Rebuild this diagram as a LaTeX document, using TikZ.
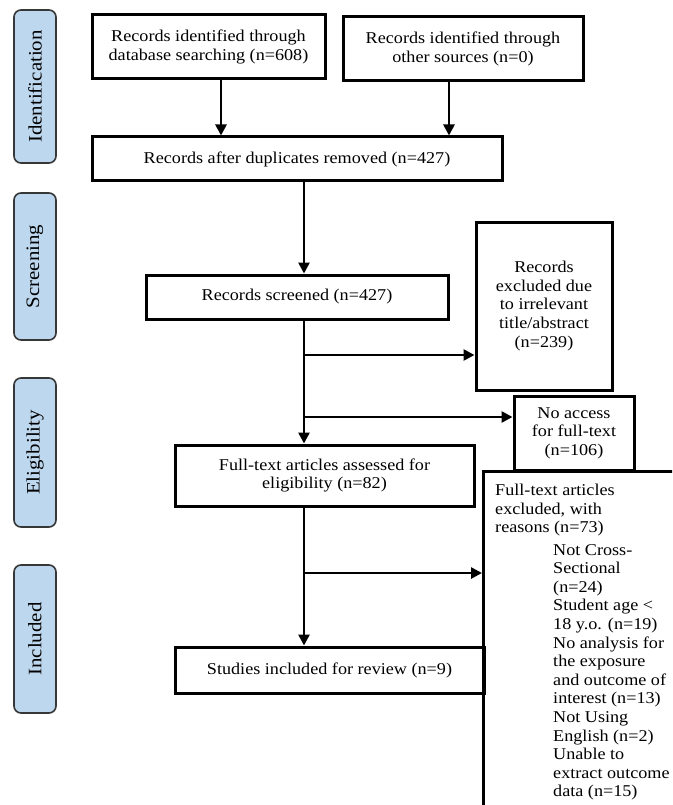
\documentclass[tikz,border=0pt]{standalone}
\usepackage{fontspec}
\setmainfont{Liberation Serif}[FakeStretch=1.1]
\usetikzlibrary{arrows.meta}

\definecolor{tabfill}{RGB}{189,215,238}
\definecolor{tabline}{RGB}{55,55,55}

\tikzset{
  box/.style={draw, line width=3pt, align=center, inner sep=2pt},
  tab/.style={draw=tabline, fill=tabfill, line width=1.6pt, rounded corners=7pt,
    rotate=90, minimum height=42, font=\fontsize{19}{20}\selectfont},
  arr/.style={line width=2.6pt, -{Triangle[length=11pt,width=11pt]}},
}

\begin{document}
\begin{tikzpicture}[x=1pt,y=1pt,yscale=-1,xscale=1,
  every node/.style={font=\fontsize{16.5}{18.6}\selectfont}]
\useasboundingbox (0,0) rectangle (672,805);
\clip (0,0) rectangle (672,805);

% Phase tabs
\node [tab, minimum width=153] (tid) at (35,86.5) {Identification};
\node [tab, minimum width=147] (tscr) at (35,266.5) {Screening};
\node [tab, minimum width=149] (telig) at (35,452.5) {Eligibility};
\node [tab, minimum width=148] (tinc) at (35,639) {Included};

% Boxes
\node [box, minimum width=233, minimum height=64] (db) at (208.5,47) {Records identified through\\database searching (n=608)};
\node [box, minimum width=240, minimum height=64] (oth) at (463,49) {Records identified through\\other sources (n=0)};
\node [box, minimum width=410, minimum height=44] (dup) at (297,159) {Records after duplicates removed (n=427)};
\node [box, minimum width=302, minimum height=44] (scr) at (297,297) {Records screened (n=427)};
\node [box, minimum width=136, minimum height=168] (excl) at (544,306) {Records\\excluded due\\to irrelevant\\title/abstract\\(n=239)};
\node [box, minimum width=120, minimum height=74] (noacc) at (574,433) {No access\\for full-text\\(n=106)};
\node [box, minimum width=299, minimum height=61] (full) at (324.5,475.5) {Full-text articles assessed for\\eligibility (n=82)};
\node [box, minimum width=309, minimum height=46] (stud) at (329.5,670) {Studies included for review (n=9)};
\node [box, anchor=north west, minimum width=260, minimum height=400] (rsn) at (482,470) {};

% Text Node
\node [anchor=north west, align=left, inner sep=0pt] (rsnhead) at (495,484) {Full-text articles\\excluded, with\\reasons (n=73)};
% Text Node
\node [anchor=north west, align=left, inner sep=0pt] (rsnlist) at (553,544) {Not Cross-\\Sectional\\(n=24)\\Student age <\\18 y.o. (n=19)\\No analysis for\\the exposure\\and outcome of\\interest (n=13)\\Not Using\\English (n=2)\\Unable to\\extract outcome\\data (n=15)};

% Arrows
\coordinate (a1) at (221,0);
\coordinate (a2) at (449,0);
\coordinate (sp) at (304,0);
\coordinate (j1) at (304,355);
\coordinate (j2) at (304,417);
\coordinate (j3) at (304,573);
\draw [arr] (db.south -| a1) -- (dup.north -| a1);
\draw [arr] (oth.south -| a2) -- (dup.north -| a2);
\draw [arr] (dup.south -| sp) -- (scr.north -| sp);
\draw [arr] (scr.south -| sp) -- (full.north -| sp);
\draw [arr] (full.south -| sp) -- (stud.north -| sp);
\draw [arr] (j1) -- (j1 -| excl.west);
\draw [arr] (j2) -- (j2 -| noacc.west);
\draw [arr] (j3) -- (j3 -| rsn.west);

\end{tikzpicture}
\end{document}
